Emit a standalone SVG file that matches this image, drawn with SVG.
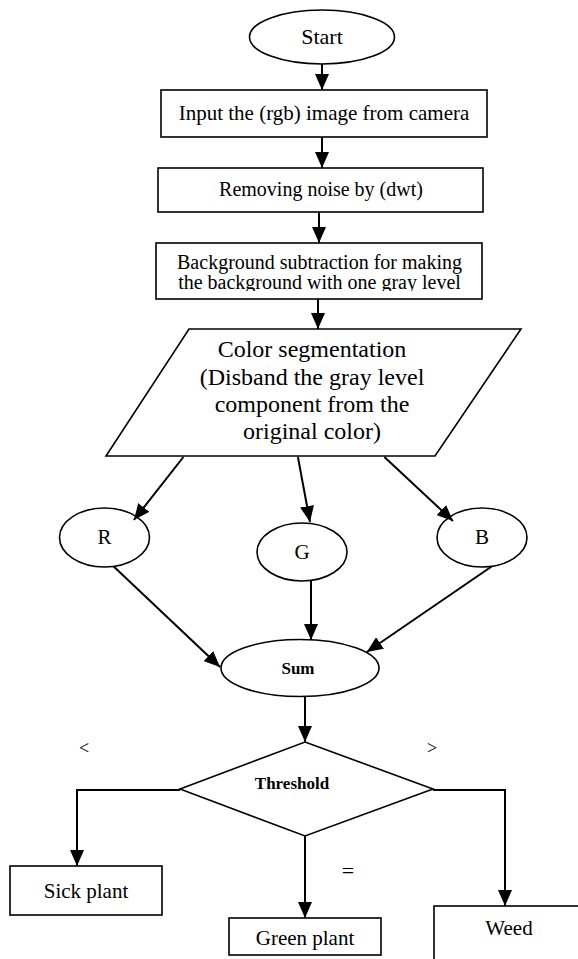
<svg xmlns="http://www.w3.org/2000/svg" width="578" height="959" viewBox="0 0 578 959">
<style>
.shape{fill:#fff;stroke:#000;stroke-width:1.6}
.t{font-family:"Liberation Serif","Times New Roman",serif;fill:#000;text-anchor:middle}
.b{font-weight:bold}
.edge{fill:none;stroke:#000;stroke-width:2}
</style>
<defs>
<marker id="ah" markerUnits="userSpaceOnUse" markerWidth="16" markerHeight="14" refX="16" refY="7" orient="auto">
<path d="M0,0 L16,7 L0,14 z" fill="#000"/>
</marker>
<clipPath id="clip3"><rect x="156" y="243" width="326" height="48"/></clipPath>
</defs>
<rect width="578" height="959" fill="#fff"/>

<g id="start">
<ellipse class="shape" cx="322" cy="37" rx="72.5" ry="27"/>
<text class="t" x="322" y="44" font-size="22">Start</text>
</g>
<g id="input">
<rect class="shape" x="161" y="90" width="326" height="47"/>
<text class="t" x="324" y="120" font-size="21">Input the (rgb) image from camera</text>
</g>
<g id="denoise">
<rect class="shape" x="158" y="168" width="325" height="44"/>
<text class="t" x="321" y="196" font-size="20">Removing noise by (dwt)</text>
</g>
<g id="background">
<rect class="shape" x="156" y="243" width="326" height="56"/>
<g clip-path="url(#clip3)">
<text class="t" x="319.5" y="269" font-size="20">Background subtraction for making</text>
<text class="t" x="319.5" y="289" font-size="20">the background with one gray level</text>
</g>
</g>
<g id="segmentation">
<polygon class="shape" points="189,329 521,329 435,456 106,456"/>
<text class="t" x="312" y="357" font-size="24">Color segmentation</text>
<text class="t" x="312" y="385" font-size="24">(Disband the gray level</text>
<text class="t" x="312" y="412" font-size="24">component from the</text>
<text class="t" x="312" y="439" font-size="24">original color)</text>
</g>
<g id="r">
<ellipse class="shape" cx="104.5" cy="537.5" rx="45" ry="29.5"/>
<text class="t" x="104.5" y="544" font-size="21">R</text>
</g>
<g id="g">
<ellipse class="shape" cx="302" cy="552" rx="45" ry="29"/>
<text class="t" x="302" y="559" font-size="21">G</text>
</g>
<g id="b">
<ellipse class="shape" cx="482" cy="537.5" rx="45" ry="29.5"/>
<text class="t" x="482" y="544" font-size="21">B</text>
</g>
<g id="sum">
<ellipse class="shape" cx="300" cy="668" rx="79" ry="28.5"/>
<text class="t b" x="298" y="674" font-size="17">Sum</text>
</g>
<g id="threshold">
<polygon class="shape" points="305,742 433,789 305,836 180,789"/>
<text class="t b" x="292" y="789" font-size="17">Threshold</text>
</g>
<g id="sick">
<rect class="shape" x="10" y="866" width="152" height="49"/>
<text class="t" x="86" y="898" font-size="21">Sick plant</text>
</g>
<g id="green">
<rect class="shape" x="229" y="918" width="152" height="37"/>
<text class="t" x="305" y="945" font-size="21">Green plant</text>
</g>
<g id="weed">
<rect class="shape" x="434" y="906" width="150" height="80"/>
<text class="t" x="509" y="935" font-size="21">Weed</text>
</g>

<g id="connectors">
<path class="edge" d="M322,64 L322,90" marker-end="url(#ah)"/>
<path class="edge" d="M322,137 L322,168" marker-end="url(#ah)"/>
<path class="edge" d="M319,212 L319,243" marker-end="url(#ah)"/>
<path class="edge" d="M318,299 L318,329" marker-end="url(#ah)"/>
<path class="edge" d="M183.4,457 L133.9,520" marker-end="url(#ah)"/>
<path class="edge" d="M297.9,457 L310,522" marker-end="url(#ah)"/>
<path class="edge" d="M384.4,457 L453,521" marker-end="url(#ah)"/>
<path class="edge" d="M113.7,566.5 L220,667" marker-end="url(#ah)"/>
<path class="edge" d="M311,581 L311,640" marker-end="url(#ah)"/>
<path class="edge" d="M491.6,566.5 L366.8,652" marker-end="url(#ah)"/>
<path class="edge" d="M305,697 L305,742" marker-end="url(#ah)"/>
<path class="edge" d="M180,790 L77,790 L77,866" marker-end="url(#ah)"/>
<path class="edge" d="M305,836 L305,918" marker-end="url(#ah)"/>
<path class="edge" d="M433,790 L505,790 L505,906" marker-end="url(#ah)"/>
<text class="t" x="84" y="754" font-size="18">&lt;</text>
<text class="t" x="432" y="754" font-size="18">&gt;</text>
<text class="t" x="348" y="878" font-size="22">=</text>
</g>
</svg>
